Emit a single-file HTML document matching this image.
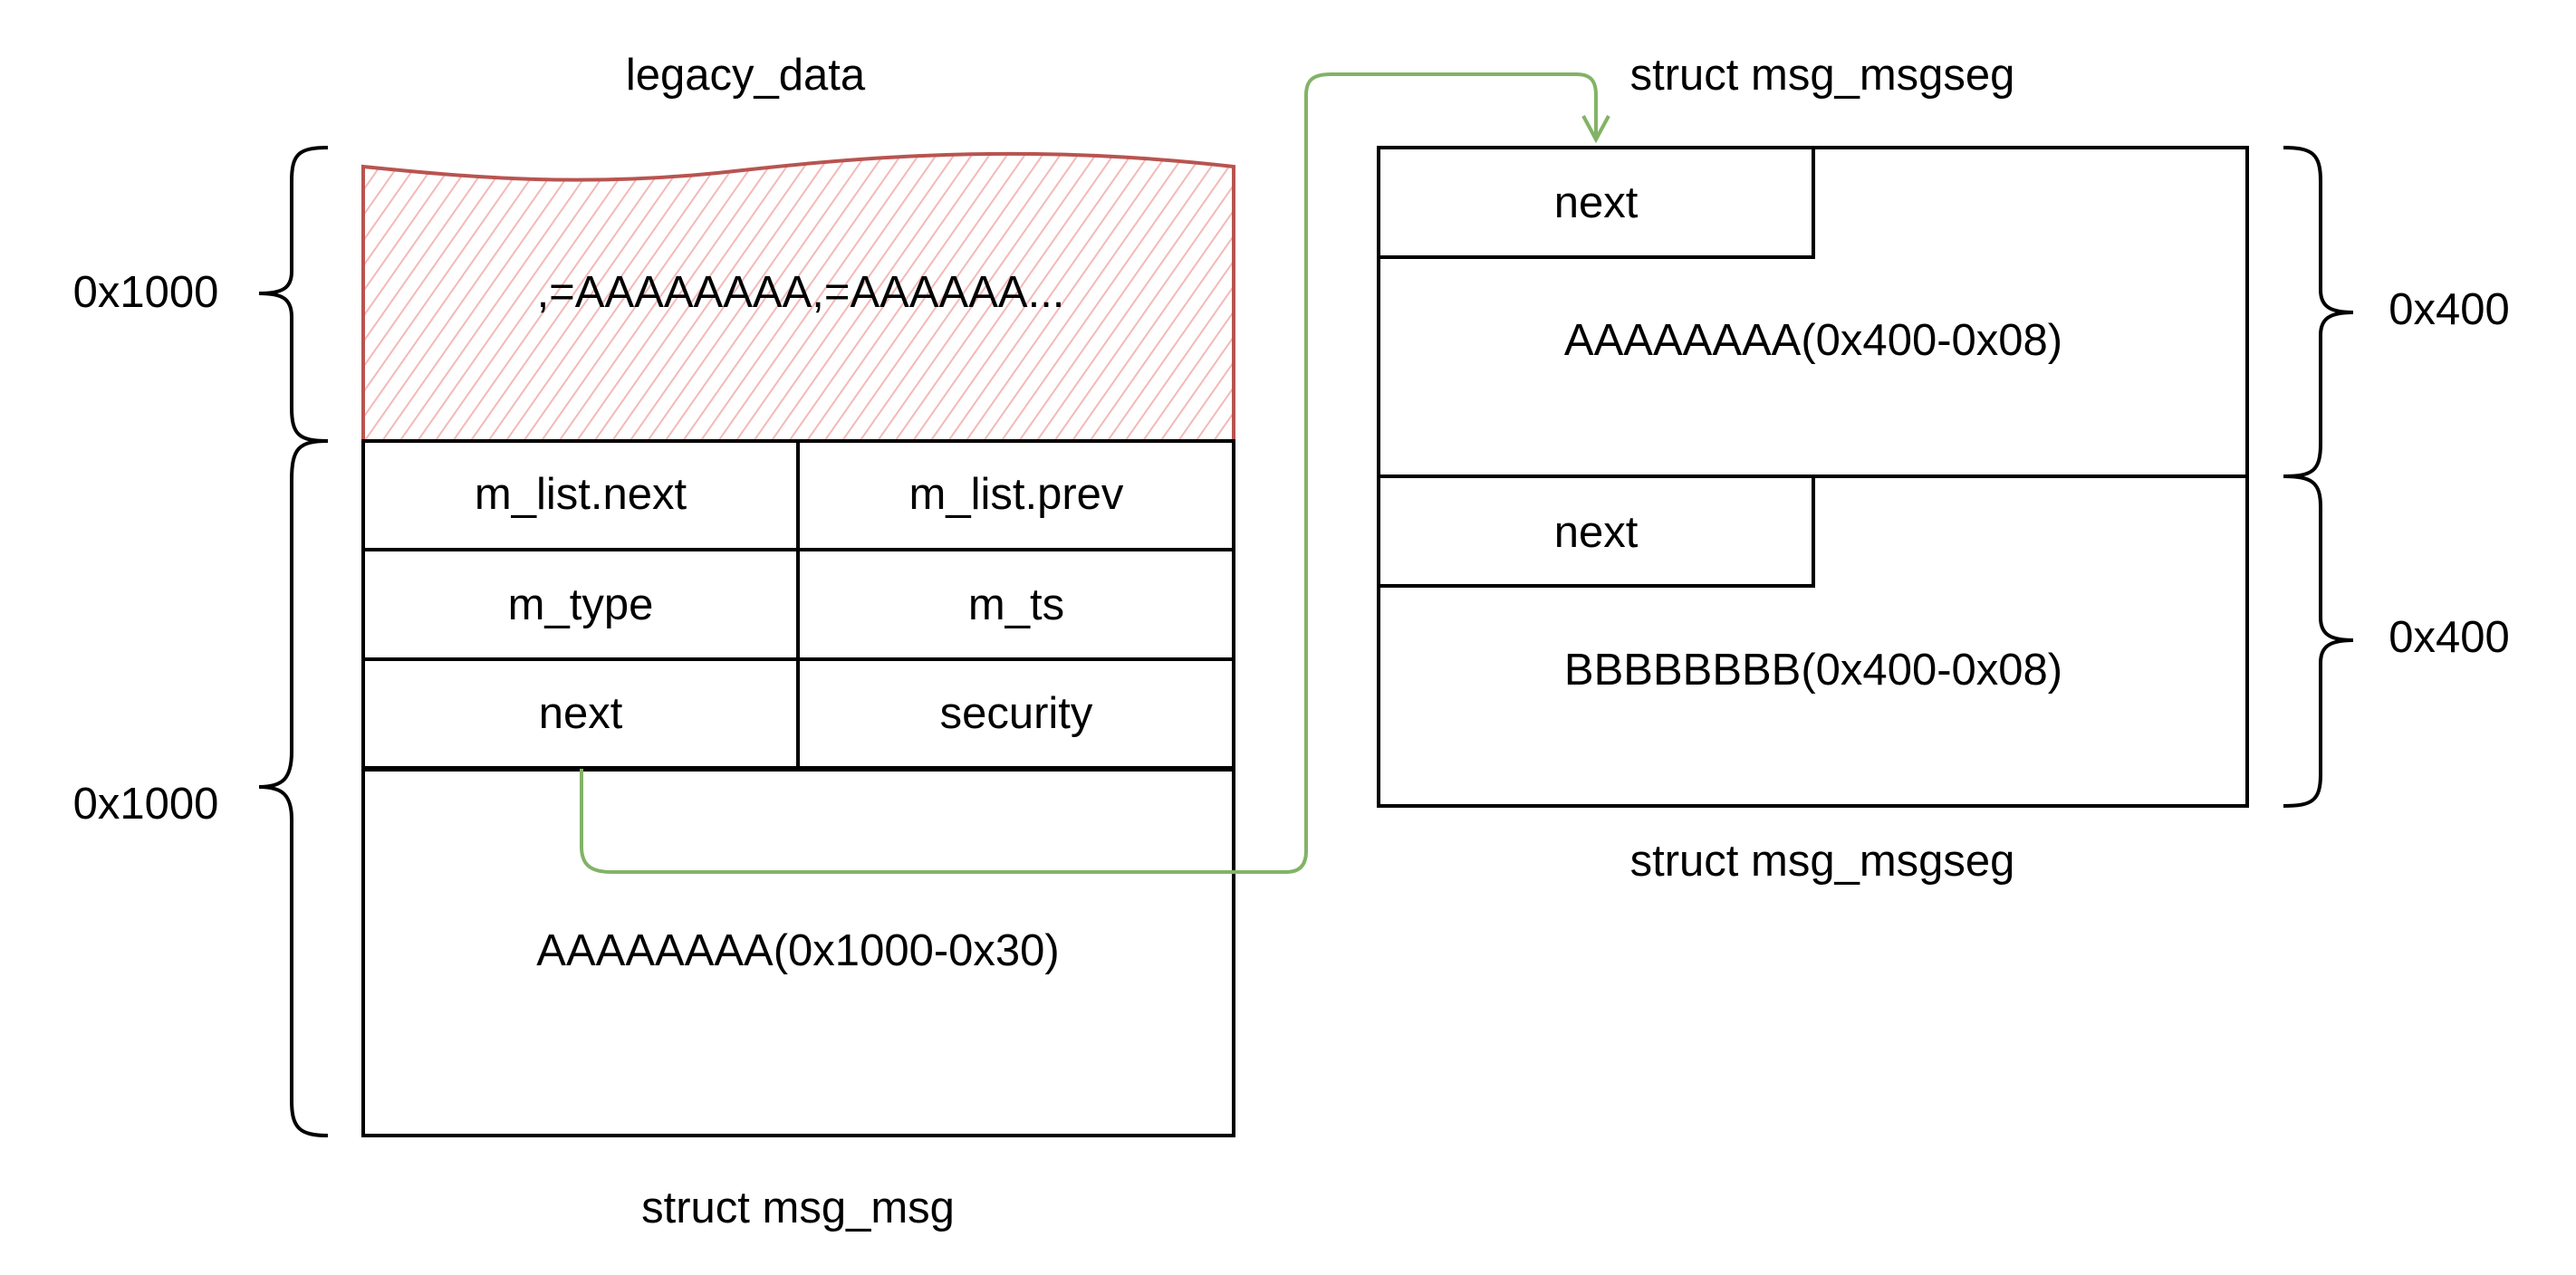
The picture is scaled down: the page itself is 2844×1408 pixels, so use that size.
<!DOCTYPE html>
<html><head><meta charset="utf-8"><style>html,body{margin:0;padding:0;background:#fff;}svg{display:block}</style></head>
<body>
<svg width="2844" height="1408" viewBox="0 0 2844 1408" xmlns="http://www.w3.org/2000/svg" font-family="'Liberation Sans', sans-serif" font-size="49" text-anchor="middle" dominant-baseline="middle">
<defs>
<pattern id="h" width="16" height="16" patternUnits="userSpaceOnUse" patternTransform="rotate(35)">
<line x1="0" y1="0" x2="0" y2="16" stroke="#f3b9b9" stroke-width="4"/>
</pattern>
<clipPath id="c"><path d="M401,184 C520,196 650,208 820,188 C980,170 1150,160 1362,184 L1362,487 L401,487 Z"/></clipPath>
</defs>
<rect width="2844" height="1408" fill="#fff"/>
<rect x="395" y="150" width="975" height="340" fill="url(#h)" clip-path="url(#c)"/>
<path d="M401,184 C520,196 650,208 820,188 C980,170 1150,160 1362,184 L1362,487 L401,487 Z" fill="none" stroke="#b85450" stroke-width="4"/>
<g fill="none" stroke="#000" stroke-width="4">
<rect x="401" y="487" width="961" height="767"/>
<line x1="401" y1="607" x2="1362" y2="607"/>
<line x1="401" y1="728" x2="1362" y2="728"/>
<line x1="401" y1="849" x2="1362" y2="849" stroke-width="6"/>
<line x1="881" y1="487" x2="881" y2="849"/>
<rect x="1522" y="163" width="959" height="727"/>
<line x1="1522" y1="526" x2="2481" y2="526"/>
<rect x="1522" y="163" width="480" height="121"/>
<rect x="1522" y="526" width="480" height="121"/>
<path d="M362,163 C330,163 322,170 322,200 L322,300 C322,318 312,324 286,324 C312,324 322,330 322,350 L322,450 C322,480 330,487 362,487"/>
<path d="M362,487 C330,487 322,495 322,530 L322,830 C322,860 312,869 286,869 C312,869 322,878 322,905 L322,1215 C322,1245 330,1254 362,1254"/>
<path d="M2521,163 C2553,163 2562,170 2562,200 L2562,320 C2562,338 2572,345 2598,345 C2572,345 2562,352 2562,370 L2562,490 C2562,520 2553,526 2521,526"/>
<path d="M2521,526 C2553,526 2562,533 2562,560 L2562,682 C2562,700 2572,707 2598,707 C2572,707 2562,714 2562,732 L2562,855 C2562,884 2553,890 2521,890"/>
</g>
<path d="M642,849 L642,935 C642,955 652,963 675,963 L1420,963 C1435,963 1442,955 1442,940 L1442,105 C1442,88 1450,82 1470,82 L1740,82 C1755,82 1762,88 1762,105 L1762,150" fill="none" stroke="#82b366" stroke-width="4"/>
<path d="M1748,128 L1762,154 L1776,128" fill="none" stroke="#82b366" stroke-width="4"/>
<g fill="#000">
<text x="823" y="86">legacy_data</text>
<text x="884" y="326">,=AAAAAAAA,=AAAAAA...</text>
<text x="641" y="549">m_list.next</text>
<text x="1122" y="549">m_list.prev</text>
<text x="641" y="671">m_type</text>
<text x="1122" y="671">m_ts</text>
<text x="641" y="791">next</text>
<text x="1122" y="791">security</text>
<text x="881" y="1053">AAAAAAAA(0x1000-0x30)</text>
<text x="881" y="1337">struct msg_msg</text>
<text x="161" y="326">0x1000</text>
<text x="161" y="891">0x1000</text>
<text x="2012" y="86">struct msg_msgseg</text>
<text x="1762" y="227">next</text>
<text x="2002" y="379">AAAAAAAA(0x400-0x08)</text>
<text x="1762" y="591">next</text>
<text x="2002" y="743">BBBBBBBB(0x400-0x08)</text>
<text x="2012" y="954">struct msg_msgseg</text>
<text x="2704" y="345">0x400</text>
<text x="2704" y="707">0x400</text>
</g>
</svg>
</body></html>
